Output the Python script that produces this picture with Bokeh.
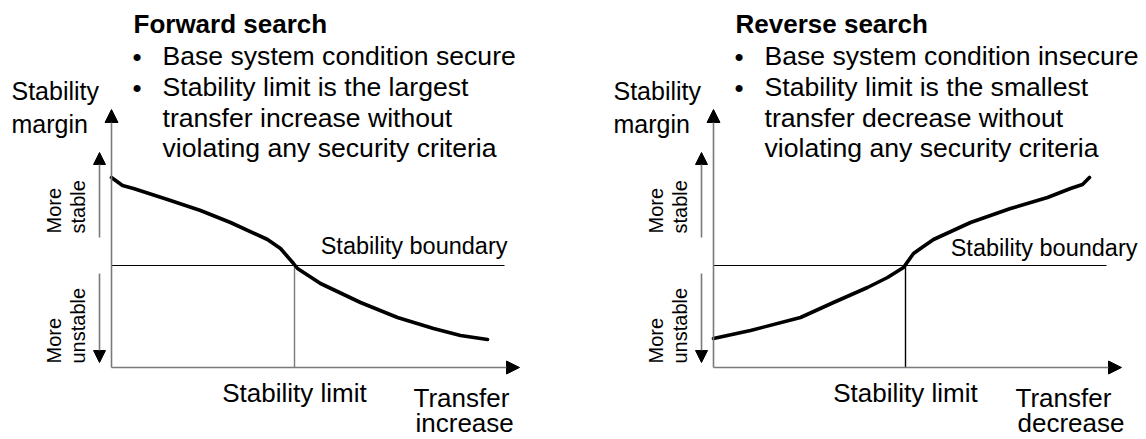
import math
from bokeh.plotting import figure
from bokeh.models import Range1d, Arrow, NormalHead, Label
from bokeh.layouts import row
from bokeh.embed import file_html
from bokeh.resources import INLINE

# ---- data (transfer vs. stability margin, boundary at margin = 0) ----
forward_transfer = [0, 11, 22, 56, 89, 119, 156, 169, 182, 186, 209, 249, 286, 322, 349, 376]
forward_margin = [88, 80, 77, 66, 55, 43, 26, 17, 2, -3, -18, -37, -52, -63, -70, -74]
forward_limit = 183

reverse_transfer = [0, 37, 87, 120, 154, 174, 190, 200, 207, 220, 257, 297, 334, 357, 369, 376]
reverse_margin = [-73, -65, -52, -37, -22, -12, -2, 12, 17, 26, 43, 57, 68, 77, 81, 88]
reverse_limit = 192

boundary_margin = 0

forward_title = "Forward search"
forward_bullets = [["Base system condition secure"],
                   ["Stability limit is the largest", "transfer increase without",
                    "violating any security criteria"]]
forward_xlabel = ["Transfer", "increase"]

reverse_title = "Reverse search"
reverse_bullets = [["Base system condition insecure"],
                   ["Stability limit is the smallest", "transfer decrease without",
                    "violating any security criteria"]]
reverse_xlabel = ["Transfer", "decrease"]

ylabel = ["Stability", "margin"]
boundary_label = "Stability boundary"
limit_label = "Stability limit"

FONT = "Liberation Sans"
AX = "#7a7a7a"
W, H = 573, 439
BASE_FIX = 0.38  # label anchor offset (fraction of font size) to land on the baseline


def lab(p, x, y, text, size, align="left", bold=False, rotated=False):
    off = BASE_FIX * size
    if rotated:
        x, angle = x - off, math.pi / 2
    else:
        y, angle = y + off, 0.0
    p.add_layout(Label(x=x, y=y, text=text, x_units="data", y_units="data",
                       text_font=FONT, text_font_size=f"{size}px", text_color="black",
                       text_font_style="bold" if bold else "normal",
                       text_align=align, text_baseline="alphabetic", angle=angle))


def panel(x0, transfer, margin, limit, title, bullets, xlabel, bnd_x, bnd_y, limit_color):
    p = figure(width=W, height=H, x_range=Range1d(x0, x0 + W), y_range=Range1d(-174, 265),
               output_backend="svg", toolbar_location=None, min_border=0,
               x_axis_location=None, y_axis_location=None)
    p.grid.visible = False
    p.outline_line_color = None
    p.background_fill_color = "white"

    x_axis_y, y_tip, x_tip = -102, 156, 408
    # main axes with arrowheads
    p.add_layout(Arrow(x_start=0, y_start=x_axis_y, x_end=0, y_end=y_tip,
                       line_color=AX, line_width=1.6,
                       end=NormalHead(size=13, fill_color="black", line_color="black")))
    p.add_layout(Arrow(x_start=0, y_start=x_axis_y, x_end=x_tip, y_end=x_axis_y,
                       line_color=AX, line_width=1.6,
                       end=NormalHead(size=13, fill_color="black", line_color="black")))
    # small direction arrows
    p.add_layout(Arrow(x_start=-12, y_start=28, x_end=-12, y_end=113,
                       line_color=AX, line_width=1.6,
                       end=NormalHead(size=12, fill_color="black", line_color="black")))
    p.add_layout(Arrow(x_start=-12, y_start=-8, x_end=-12, y_end=-97,
                       line_color=AX, line_width=1.6,
                       end=NormalHead(size=12, fill_color="black", line_color="black")))

    # stability boundary and limit
    p.segment(x0=[0], y0=[boundary_margin], x1=[393], y1=[boundary_margin],
              line_color="black", line_width=1.2)
    p.segment(x0=[limit], y0=[boundary_margin], x1=[limit], y1=[x_axis_y],
              line_color=limit_color, line_width=1.4)

    # curve
    p.line(transfer, margin, line_color="black", line_width=3.6,
           line_join="round", line_cap="round")

    # texts
    lab(p, 22, 232, title, 26, bold=True)
    ys = [199, 168, 137, 107]
    k = 0
    for b in bullets:
        lab(p, 21, ys[k], "\u2022", 26)
        for line in b:
            lab(p, 51, ys[k], line, 26.6)
            k += 1
    lab(p, -100, 165, ylabel[0], 25)
    lab(p, -100, 132, ylabel[1], 25)
    lab(p, -50, 32, "More", 20, rotated=True)
    lab(p, -26, 32, "stable", 20, rotated=True)
    lab(p, -50, -98, "More", 20, rotated=True)
    lab(p, -26, -98, "unstable", 20, rotated=True)
    lab(p, bnd_x, bnd_y, boundary_label, 23.5, align="right")
    lab(p, limit, -137, limit_label, 26, align="center")
    lab(p, 302, -142, xlabel[0], 26)
    lab(p, 304, -167, xlabel[1], 26)
    return p


left = panel(-111, forward_transfer, forward_margin, forward_limit,
             forward_title, forward_bullets, forward_xlabel, 396, 11, AX)
right = panel(-140, reverse_transfer, reverse_margin, reverse_limit,
              reverse_title, reverse_bullets, reverse_xlabel, 424, 9, "black")

layout = row(left, right, spacing=0)
open("out.html", "w").write(file_html(layout, INLINE))
